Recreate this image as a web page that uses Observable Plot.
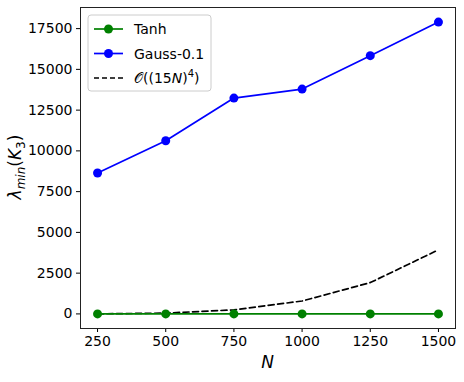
<!DOCTYPE html>
<html>
<head>
<meta charset="utf-8">
<script src="https://cdn.jsdelivr.net/npm/d3@7"></script>
<script src="https://cdn.jsdelivr.net/npm/@observablehq/plot@0.6"></script>
<style>
  html, body { margin: 0; padding: 0; background: #fff; }
  svg { font-family: "DejaVu Sans", sans-serif; }
</style>
</head>
<body>
<div id="chart"></div>
<script>
const N = [250, 500, 750, 1000, 1250, 1500];
const tanhVals = [0, 0, 0, 0, 0, 0];
const gaussVals = [8640, 10620, 13240, 13790, 15840, 17900];
const boundVals = [3, 49, 247, 790, 1920, 3930];
const xTicks = [250, 500, 750, 1000, 1250, 1500];
const yTicks = [0, 2500, 5000, 7500, 10000, 12500, 15000, 17500];
const seriesNames = ["Tanh", "Gauss-0.1", "𝒪((15N)4)"];

const tanh = N.map((n, i) => ({N: n, v: tanhVals[i]}));
const gauss = N.map((n, i) => ({N: n, v: gaussVals[i]}));
const bound = N.map((n, i) => ({N: n, v: boundVals[i]}));

const W = 464, H = 382;
const plot = Plot.plot({
  width: W,
  height: H,
  marginLeft: 80,
  marginRight: 9,
  marginTop: 7,
  marginBottom: 54,
  style: {fontSize: "14px", fontFamily: "DejaVu Sans, sans-serif", color: "#000", background: "#fff"},
  x: {domain: [187.5, 1562.5], ticks: xTicks, tickFormat: d => String(d), label: null},
  y: {domain: [-895, 18795], ticks: yTicks, tickFormat: d => String(d), label: null},
  marks: [
    Plot.axisX({ticks: xTicks, tickFormat: d => String(d), tickSize: 4, tickPadding: 4, fontSize: 14, label: null}),
    Plot.axisY({ticks: yTicks, tickFormat: d => String(d), tickSize: 4, tickPadding: 4, fontSize: 14, label: null}),
    Plot.line(bound, {x: "N", y: "v", stroke: "black", strokeWidth: 1.7, strokeDasharray: "6,3.5"}),
    Plot.line(gauss, {x: "N", y: "v", stroke: "blue", strokeWidth: 1.7}),
    Plot.dot(gauss, {x: "N", y: "v", fill: "blue", r: 4.5}),
    Plot.line(tanh, {x: "N", y: "v", stroke: "green", strokeWidth: 1.7}),
    Plot.dot(tanh, {x: "N", y: "v", fill: "green", r: 4.5}),
    Plot.frame({stroke: "#222", strokeWidth: 1})
  ]
});
document.getElementById("chart").appendChild(plot);

const svg = d3.select(plot);
// Axis labels
svg.append("text")
  .attr("x", 267.5).attr("y", 368)
  .attr("text-anchor", "middle")
  .attr("font-size", 17).attr("font-style", "italic")
  .text("N");

const yl = svg.append("text")
  .attr("transform", "translate(21,167) rotate(-90)")
  .attr("text-anchor", "middle")
  .attr("font-size", 17);
yl.append("tspan").attr("font-style", "italic").text("λ");
yl.append("tspan").attr("font-style", "italic").attr("font-size", 12).attr("dy", 4).text("min");
yl.append("tspan").attr("dy", -4).text("(");
yl.append("tspan").attr("font-style", "italic").text("K");
yl.append("tspan").attr("font-size", 12).attr("dy", 4).text("3");
yl.append("tspan").attr("dy", -4).text(")");

// Legend
const lg = svg.append("g");
lg.append("rect").attr("x", 88).attr("y", 15).attr("width", 123).attr("height", 76)
  .attr("rx", 3).attr("fill", "white").attr("fill-opacity", 0.85)
  .attr("stroke", "#ccc").attr("stroke-width", 1);
const entries = [
  {name: seriesNames[0], color: "green", dash: null, dot: true},
  {name: seriesNames[1], color: "blue", dash: null, dot: true},
  {name: seriesNames[2], color: "black", dash: "5,3", dot: false}
];
entries.forEach((e, i) => {
  const y = 29 + i * 24.5;
  lg.append("line").attr("x1", 94).attr("x2", 123).attr("y1", y).attr("y2", y)
    .attr("stroke", e.color).attr("stroke-width", 1.7)
    .attr("stroke-dasharray", e.dash);
  if (e.dot) lg.append("circle").attr("cx", 108.5).attr("cy", y).attr("r", 4.5).attr("fill", e.color);
  const t = lg.append("text").attr("x", 134).attr("y", y).attr("dy", "0.36em")
    .attr("text-anchor", "start").attr("font-size", 14);
  if (i < 2) {
    t.text(e.name);
  } else {
    t.append("tspan").text("𝒪((15");
    t.append("tspan").attr("font-style", "italic").text("N");
    t.append("tspan").text(")");
    t.append("tspan").attr("font-size", 10).attr("dy", -6).text("4");
    t.append("tspan").attr("dy", 6).text(")");
  }
});
</script>
</body>
</html>
